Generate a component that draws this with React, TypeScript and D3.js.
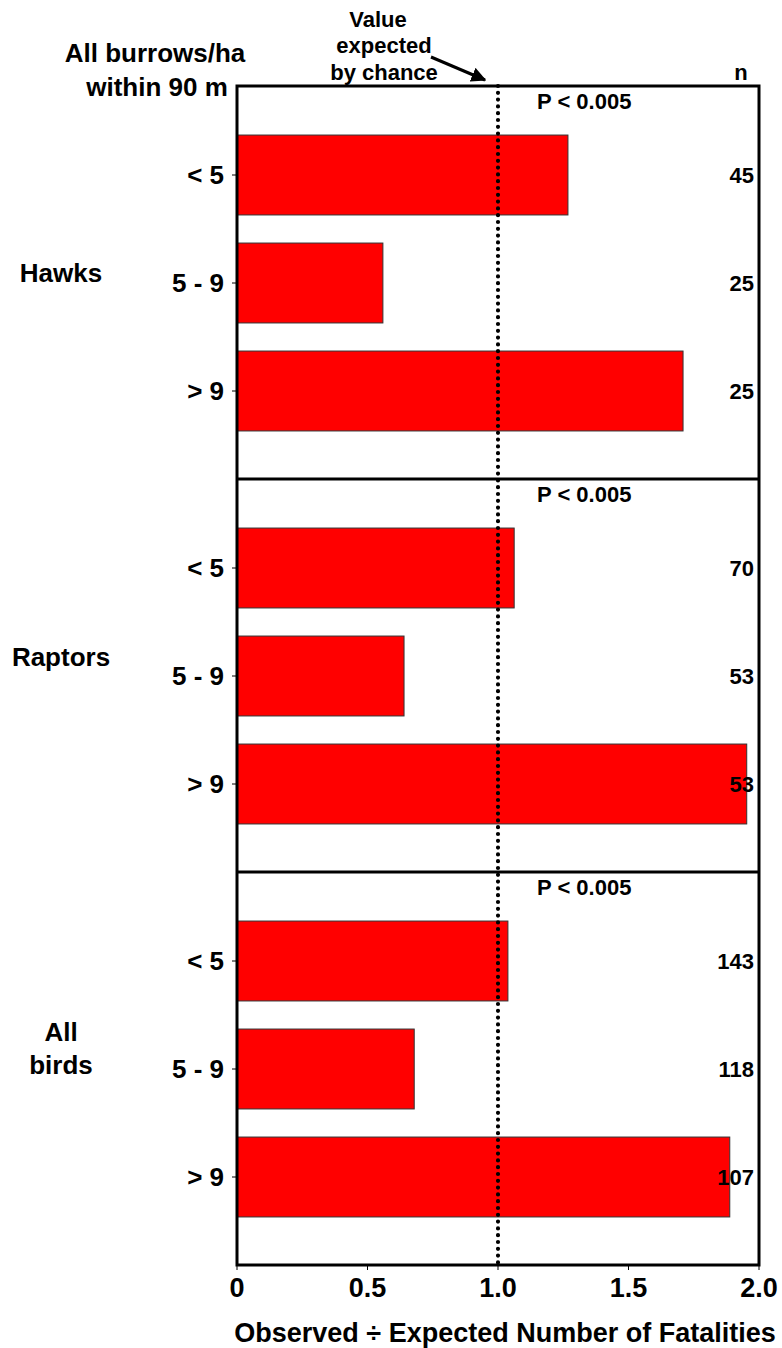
import React from 'react';
import * as d3 from 'd3';

const groups = ['Hawks', 'Raptors', 'All birds'];
const categories = ['< 5', '5 - 9', '> 9'];
const hawks = [1.268, 0.559, 1.709];
const raptors = [1.062, 0.64, 1.953];
const allBirds = [1.038, 0.679, 1.888];
const hawksN = [45, 25, 25];
const raptorsN = [70, 53, 53];
const allBirdsN = [143, 118, 107];
const xTicks = [0, 0.5, 1.0, 1.5, 2.0];
const pLabels = ['P < 0.005', 'P < 0.005', 'P < 0.005'];

const values = [hawks, raptors, allBirds];
const counts = [hawksN, raptorsN, allBirdsN];

const W = 782;
const H = 1348;
const left = 237;
const right = 759;
const top = 86;
const panelH = 393;
const bottom = top + panelH * 3;
const font = '"Liberation Sans", Arial, sans-serif';

const x = d3.scaleLinear().domain([0, 2]).range([left, right]);
// each panel: three bars, 80px tall, 108px apart
const y = d3.scaleBand<string>()
  .domain(categories)
  .range([35, 359])
  .paddingInner(0.26)
  .paddingOuter(0.13);

// group label placement (lines and offsets from panel top)
const groupLines = [['Hawks'], ['Raptors'], ['All', 'birds']];
const groupY = [187, 178, 160];

export default function App() {
  const refLine = x(1);
  return (
    <svg width={W} height={H} style={{ display: 'block', position: 'absolute', left: 0, top: 0 }}
      fontFamily={font} fontWeight="bold">
      <defs>
        <marker id="arrow" viewBox="0 0 10 10" refX="9" refY="5" markerWidth="5" markerHeight="5" orient="auto">
          <path d="M0,0 L10,5 L0,10 Z" fill="#000" />
        </marker>
      </defs>
      <rect width={W} height={H} fill="#fff" />

      {/* header */}
      <text x={155} y={62} textAnchor="middle" fontSize={26}>All burrows/ha</text>
      <text x={157} y={96} textAnchor="middle" fontSize={26}>within 90 m</text>
      <text x={392} textAnchor="middle" fontSize={22}>
        <tspan x={378} y={27}>Value</tspan>
        <tspan x={384} y={53}>expected</tspan>
        <tspan x={384} y={80}>by chance</tspan>
      </text>
      <line x1={431} y1={57} x2={485} y2={80} stroke="#000" strokeWidth={3} markerEnd="url(#arrow)" />
      <text x={741} y={80} textAnchor="middle" fontSize={22}>n</text>

      {groups.map((g, gi) => {
        const py = top + gi * panelH;
        return (
          <g key={g} transform={`translate(0,${py})`}>
            {categories.map((c, ci) => (
              <g key={c}>
                <rect x={x(0)} y={y(c)} width={x(values[gi][ci]) - x(0)} height={y.bandwidth()}
                  fill="#ff0000" stroke="#333" strokeWidth={1} />
                <line x1={left - 5} x2={left} y1={y(c)! + y.bandwidth() / 2} y2={y(c)! + y.bandwidth() / 2}
                  stroke="#000" strokeWidth={1} />
                <text x={224} y={y(c)! + y.bandwidth() / 2} dy="0.35em" textAnchor="end" fontSize={26}>{c}</text>
                <text x={754} y={y(c)! + y.bandwidth() / 2} dy="0.35em" textAnchor="end" fontSize={22}>{counts[gi][ci]}</text>
              </g>
            ))}
            <text x={537} y={23} fontSize={22}>{pLabels[gi]}</text>
            <text x={61} textAnchor="middle" fontSize={26}>
              {groupLines[gi].map((l, li) => (
                <tspan key={l} x={61} y={groupY[gi] + li * 33} dy="0.35em">{l}</tspan>
              ))}
            </text>
          </g>
        );
      })}

      {/* reference line at 1.0 */}
      <line x1={refLine} x2={refLine} y1={top} y2={bottom} stroke="#000" strokeWidth={4.2}
        strokeLinecap="round" strokeDasharray="0 6.8" />

      {/* frame and panel separators */}
      <rect x={left} y={top} width={right - left} height={bottom - top} fill="none" stroke="#000" strokeWidth={3} />
      {[1, 2].map(i => (
        <line key={i} x1={left} x2={right} y1={top + i * panelH} y2={top + i * panelH} stroke="#000" strokeWidth={3} />
      ))}

      {/* x axis */}
      {xTicks.map(t => (
        <g key={t}>
          <line x1={x(t)} x2={x(t)} y1={bottom} y2={bottom + 5} stroke="#000" strokeWidth={1} />
          <text x={x(t)} y={1297} textAnchor="middle" fontSize={27}>{t === 0 ? '0' : d3.format('.1f')(t)}</text>
        </g>
      ))}
      <text x={505} y={1342} textAnchor="middle" fontSize={27}>Observed ÷ Expected Number of Fatalities</text>
    </svg>
  );
}
